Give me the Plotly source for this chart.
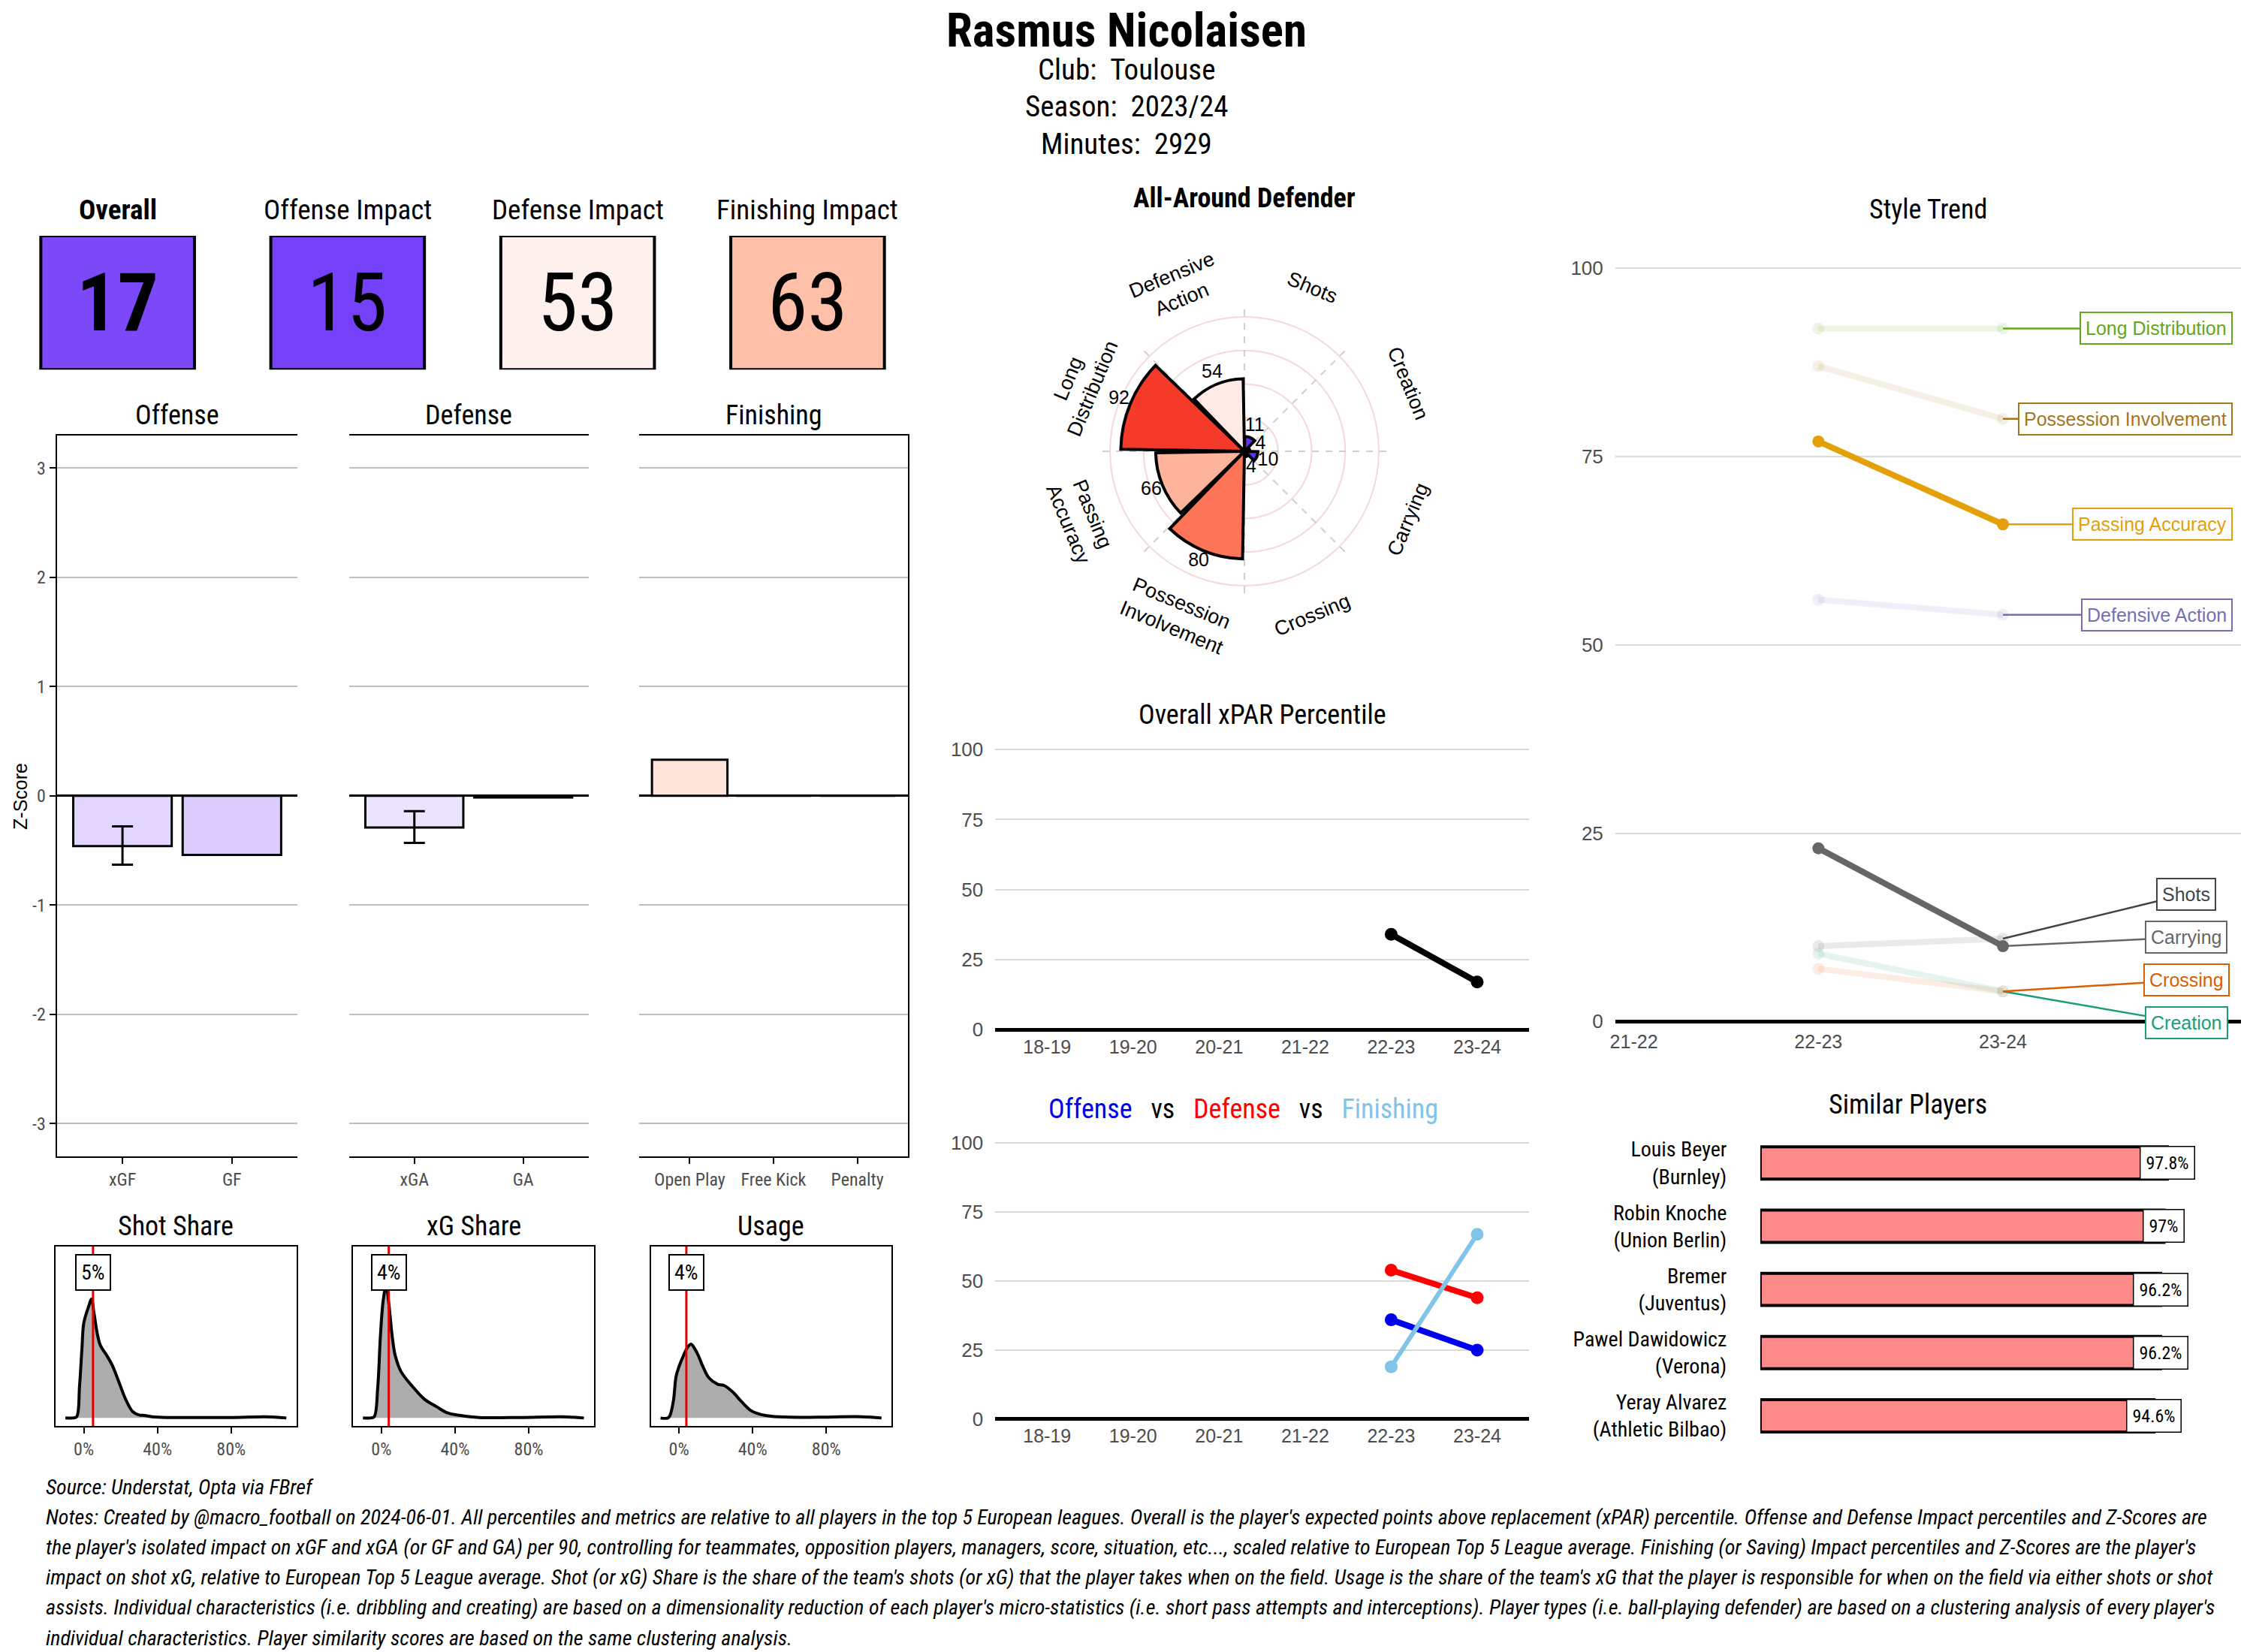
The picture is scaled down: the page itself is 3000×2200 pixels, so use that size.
import math
import plotly.graph_objects as go

# ---------------- data ----------------
PLAYER = "Rasmus Nicolaisen"
CLUB = "Toulouse"
SEASON = "2023/24"
MINUTES = 2929
PLAYER_TYPE = "All-Around Defender"

impact_labels = ["Overall", "Offense Impact", "Defense Impact", "Finishing Impact"]
impact_values = [17, 15, 53, 63]

offense_cats = ["xGF", "GF"]
offense_z = [-0.46, -0.54]
offense_lo = [-0.63, None]
offense_hi = [-0.28, None]

defense_cats = ["xGA", "GA"]
defense_z = [-0.29, -0.015]
defense_lo = [-0.43, None]
defense_hi = [-0.14, None]

finishing_cats = ["Open Play", "Free Kick", "Penalty"]
finishing_z = [0.33, 0.0, 0.0]
finishing_lo = [None, None, None]
finishing_hi = [None, None, None]

share_titles = ["Shot Share", "xG Share", "Usage"]
share_values = [5, 4, 4]

shot_share_x = [-10, -6, -3.9, -2.3, -1, 0, 2.6, 4.2, 5.5, 7.5, 9, 12, 15.5, 19, 22.7, 26.6, 30, 33, 37, 45, 60, 80, 99, 110]
shot_share_d = [0, 0, 5, 130, 280, 380, 445, 475, 420, 330, 290, 255, 210, 145, 75, 25, 12, 10, 5, 2, 2, 2, 5, 0]

xg_share_x = [-10, -6, -3.9, -2, -0.5, 1, 2.6, 4, 5.9, 7.5, 10.7, 17, 23.4, 30, 36, 43, 53, 75, 98, 110]
xg_share_d = [0, 0, 5, 120, 330, 470, 530, 460, 325, 250, 185, 125, 75, 45, 20, 10, 2, 2, 5, 0]

usage_x = [-10, -6, -4.9, -3, -1.6, 0, 1.6, 4.9, 6.5, 9.8, 13, 16.3, 21, 24.4, 29, 34, 39, 44, 50, 60, 75, 99, 110]
usage_d = [0, 0, 10, 70, 165, 205, 235, 285, 295, 260, 205, 160, 135, 130, 105, 65, 30, 15, 7, 3, 3, 5, 0]

radar_cats = ["Creation", "Shots", "Defensive Action", "Long Distribution",
              "Passing Accuracy", "Possession Involvement", "Crossing", "Carrying"]
radar_pct = [4, 11, 54, 92, 66, 80, 4, 10]

xpar_seasons = ["18-19", "19-20", "20-21", "21-22", "22-23", "23-24"]
xpar_pct = [None, None, None, None, 34, 17]
offense_pct = [None, None, None, None, 36, 25]
defense_pct = [None, None, None, None, 54, 44]
finishing_pct = [None, None, None, None, 19, 67]

trend_seasons = ["21-22", "22-23", "23-24"]
trend_names = ["Long Distribution", "Possession Involvement", "Passing Accuracy", "Defensive Action",
               "Shots", "Carrying", "Creation", "Crossing"]
trend_2122 = [None, None, None, None, None, None, None, None]
trend_2223 = [92, 87, 77, 56, 10, 23, 9, 7]
trend_2324 = [92, 80, 66, 54, 11, 10, 4, 4]

sim_names = ["Louis Beyer", "Robin Knoche", "Bremer", "Pawel Dawidowicz", "Yeray Alvarez"]
sim_clubs = ["Burnley", "Union Berlin", "Juventus", "Verona", "Athletic Bilbao"]
sim_scores = [97.8, 97.0, 96.2, 96.2, 94.6]

source_text = "Source: Understat, Opta via FBref"
notes_lines = [
    "Notes: Created by @macro_football on 2024-06-01. All percentiles and metrics are relative to all players in the top 5 European leagues. Overall is the player's expected points above replacement (xPAR) percentile. Offense and Defense Impact percentiles and Z-Scores are",
    "the player's isolated impact on xGF and xGA (or GF and GA) per 90, controlling for teammates, opposition players, managers, score, situation, etc..., scaled relative to European Top 5 League average. Finishing (or Saving) Impact percentiles and Z-Scores are the player's",
    "impact on shot xG, relative to European Top 5 League average. Shot (or xG) Share is the share of the team's shots (or xG) that the player takes when on the field. Usage is the share of the team's xG that the player is responsible for when on the field via either shots or shot",
    "assists. Individual characteristics (i.e. dribbling and creating) are based on a dimensionality reduction of each player's micro-statistics (i.e. short pass attempts and interceptions). Player types (i.e. ball-playing defender) are based on a clustering analysis of every player's",
    "individual characteristics. Player similarity scores are based on the same clustering analysis.",
]

# ---------------- styles ----------------
W, H = 3000, 2200
FC = "Roboto Condensed, Liberation Sans Narrow, DejaVu Sans Condensed, Roboto, sans-serif"
FA = "Liberation Sans, Arial, Helvetica, sans-serif"
GRAY_TXT = "#4D4D4D"
CS = [[0.0, "#3311EE"], [0.16, "#7843F9"], [0.5, "#FFFFFF"], [0.53, "#FEF0EC"], [0.63, "#FEC0A9"],
      [0.66, "#FDB49B"], [0.80, "#FC7559"], [0.92, "#F63A2A"], [1.0, "#E81E1E"]]
trend_colors = {"Long Distribution": "#66A61E", "Possession Involvement": "#A6761D",
                "Passing Accuracy": "#E3A008", "Defensive Action": "#7570B3",
                "Shots": "#444444", "Carrying": "#666666", "Crossing": "#D95F02", "Creation": "#1B9E77"}


def rgba(hexc, a):
    h = hexc.lstrip("#")
    return "rgba(%d,%d,%d,%.3f)" % (int(h[0:2], 16), int(h[2:4], 16), int(h[4:6], 16), a)


fig = go.Figure()
AX = {}
ann = []
shapes = []


def axes(n, xd, yd, xa, ya):
    s = "" if n == 1 else str(n)
    AX["xaxis" + s] = dict(domain=xd, anchor="y" + s, **xa)
    AX["yaxis" + s] = dict(domain=yd, anchor="x" + s, **ya)
    return "x" + s, "y" + s


HID = dict(showgrid=False, zeroline=False, showline=False, showticklabels=False, ticks="")

# ---------------- header ----------------
ann.append(dict(text="<b>%s</b>" % PLAYER, x=0.5, y=0.9818, xref="paper", yref="paper", showarrow=False,
                font=dict(size=63, family=FC, color="black"), yanchor="middle"))
for txt, yy in [("Club:\u00a0\u00a0" + CLUB, 0.9577), ("Season:\u00a0\u00a0" + SEASON, 0.9355),
                ("Minutes:\u00a0\u00a0" + str(MINUTES), 0.9127)]:
    ann.append(dict(text=txt, x=0.5, y=yy, xref="paper", yref="paper", showarrow=False,
                    font=dict(size=39, family=FC, color="black"), yanchor="middle"))

# ---------------- impact boxes ----------------
xr, yr = axes(1, [0.00117, 0.4095], [0.7762, 0.8573], dict(range=[-0.5, 3.5], **HID), dict(range=[0, 1], **HID))
fig.add_trace(go.Bar(x=list(range(len(impact_values))), y=[1] * len(impact_values), width=0.668,
                     marker=dict(color=impact_values, colorscale=CS, cmin=0, cmax=100,
                                 line=dict(color="black", width=4)),
                     cliponaxis=False, xaxis=xr, yaxis=yr, hoverinfo="skip"))
for i, (lab, v) in enumerate(zip(impact_labels, impact_values)):
    bold = i == 0
    ann.append(dict(text=("<b>%d</b>" % v) if bold else str(v), x=i, y=0.5, xref=xr, yref=yr, showarrow=False,
                    font=dict(size=108, family=FC, color="black"), yanchor="middle"))
    ann.append(dict(text=("<b>%s</b>" % lab) if bold else lab, x=i, y=0.873, xref=xr, yref="paper",
                    showarrow=False, font=dict(size=37, family=FC, color="black"), yanchor="middle"))

# ---------------- z-score panels ----------------
panels = [("Offense", offense_cats, offense_z, offense_lo, offense_hi, [0.02523, 0.13207]),
          ("Defense", defense_cats, defense_z, defense_lo, defense_hi, [0.15493, 0.2612]),
          ("Finishing", finishing_cats, finishing_z, finishing_lo, finishing_hi, [0.2838, 0.40287])]
zt = [-3, -2, -1, 0, 1, 2, 3]
for k, (title, cats, zs, los, his, xd) in enumerate(panels):
    first, last = k == 0, k == len(panels) - 1
    xa = dict(type="category", categoryarray=cats, range=[-0.6, len(cats) - 0.4], showgrid=False,
              zeroline=False, showline=True, linecolor="black", linewidth=2, mirror=True,
              ticks="outside", ticklen=8, tickwidth=2, tickcolor="black",
              tickfont=dict(size=24, color=GRAY_TXT, family=FC))
    ya = dict(range=[-3.3, 3.3], tickvals=zt, ticktext=[str(t) for t in zt], showgrid=True,
              gridcolor="#BEBEBE", gridwidth=1.5, zeroline=True, zerolinecolor="black", zerolinewidth=3,
              showline=first or last, linecolor="black", linewidth=2, side="right" if last else "left",
              showticklabels=first, ticks="outside" if first else "", ticklen=8, tickwidth=2,
              tickcolor="black", tickfont=dict(size=24, color=GRAY_TXT, family=FC))
    xr, yr = axes(2 + k, xd, [0.300, 0.7365], xa, ya)
    fig.add_trace(go.Bar(x=cats, y=zs, width=0.9,
                         marker=dict(color=[50 + z * 50 / 3 for z in zs], colorscale=CS, cmin=0, cmax=100,
                                     line=dict(color="black", width=3)),
                         xaxis=xr, yaxis=yr, hoverinfo="skip"))
    ex = [c for c, l in zip(cats, los) if l is not None]
    if ex:
        ev = [z for z, l in zip(zs, los) if l is not None]
        el = [l for l in los if l is not None]
        eh = [h for h in his if h is not None]
        fig.add_trace(go.Scatter(x=ex, y=ev, mode="markers", marker=dict(size=1, color="rgba(0,0,0,0)"),
                                 error_y=dict(type="data", symmetric=False,
                                              array=[h - v for h, v in zip(eh, ev)],
                                              arrayminus=[v - l for v, l in zip(ev, el)],
                                              color="black", thickness=3, width=14),
                                 xaxis=xr, yaxis=yr, hoverinfo="skip"))
    ann.append(dict(text=title, x=0.5, y=0.7486, xref=xr + " domain", yref="paper", showarrow=False,
                    font=dict(size=36, family=FC, color="black"), yanchor="middle"))
ann.append(dict(text="Z-Score", x=0.009, y=0.5182, xref="paper", yref="paper", showarrow=False, textangle=-90,
                xanchor="center", yanchor="middle", font=dict(size=25, family=FA, color="black")))

# ---------------- share densities ----------------
dens = [(shot_share_x, shot_share_d, [0.0247, 0.1315]),
        (xg_share_x, xg_share_d, [0.15677, 0.2636]),
        (usage_x, usage_d, [0.28887, 0.39567])]
for k, (xs, ds, xd) in enumerate(dens):
    xa = dict(range=[-15.3, 115.4], tickvals=[0, 40, 80], ticktext=["0%", "40%", "80%"], showgrid=False,
              zeroline=False, showline=True, mirror=True, linecolor="black", linewidth=2, ticks="outside",
              ticklen=8, tickwidth=2, tickcolor="black", tickfont=dict(size=24, color=GRAY_TXT, family=FC))
    ya = dict(range=[-32, 685], showgrid=False, zeroline=False, showline=True, mirror=True, linecolor="black",
              linewidth=2, showticklabels=False, ticks="")
    xr, yr = axes(5 + k, xd, [0.1368, 0.2455], xa, ya)
    fig.add_trace(go.Scatter(x=xs, y=ds, mode="lines", line=dict(color="black", width=4, shape="spline"),
                             fill="tozeroy", fillcolor="#ADADAD", xaxis=xr, yaxis=yr, hoverinfo="skip"))
    v = share_values[k]
    shapes.append(dict(type="line", xref=xr, yref=yr + " domain", x0=v, x1=v, y0=0, y1=1,
                       line=dict(color="#E00000", width=3)))
    ann.append(dict(text="%d%%" % v, x=v, y=582, xref=xr, yref=yr, showarrow=False, bgcolor="white",
                    bordercolor="black", borderwidth=2, borderpad=6, font=dict(size=28, family=FC, color="black")))
    ann.append(dict(text=share_titles[k], x=0.5, y=0.2579, xref=xr + " domain", yref="paper", showarrow=False,
                    font=dict(size=36, family=FC, color="black"), yanchor="middle"))

# ---------------- radar ----------------
POLAR_DOM_X = [0.4688, 0.6359]
POLAR_DOM_Y = [0.6129, 0.8407]
R_MAX = 140
theta_c = [22.5 + 45 * i for i in range(len(radar_cats))]
for a in range(0, 360, 45):
    fig.add_trace(go.Scatterpolar(r=[0, 106], theta=[a, a], mode="lines",
                                  line=dict(color="#CFCFCF", width=2, dash="dash"),
                                  subplot="polar", hoverinfo="skip"))
fig.add_trace(go.Barpolar(r=radar_pct, theta=theta_c, width=[43] * len(radar_pct),
                          marker=dict(color=radar_pct, colorscale=CS, cmin=0, cmax=100,
                                      line=dict(color="black", width=4)),
                          subplot="polar2", hoverinfo="skip"))
fig.add_trace(go.Scatterpolar(r=[v + 9 for v in radar_pct], theta=theta_c, mode="text",
                              text=[str(v) for v in radar_pct], textfont=dict(size=25, family=FA, color="black"),
                              subplot="polar2", hoverinfo="skip"))
# tangentially rotated category labels around the radar
cx = (POLAR_DOM_X[0] + POLAR_DOM_X[1]) / 2
cy = (POLAR_DOM_Y[0] + POLAR_DOM_Y[1]) / 2
rad_px = min((POLAR_DOM_X[1] - POLAR_DOM_X[0]) * W, (POLAR_DOM_Y[1] - POLAR_DOM_Y[0]) * H) / 2
for name, th in zip(radar_cats, theta_c):
    rr = 132 / R_MAX * rad_px
    t = math.radians(th)
    rot = th - 90
    while rot > 180:
        rot -= 360
    if rot > 90:
        rot -= 180
    elif rot < -90:
        rot += 180
    ann.append(dict(text=name.replace(" ", "<br>"), x=cx + rr * math.cos(t) / W, y=cy + rr * math.sin(t) / H,
                    xref="paper", yref="paper", showarrow=False, textangle=-rot, xanchor="center",
                    yanchor="middle", font=dict(size=27, family=FA, color="black")))
ann.append(dict(text="<b>%s</b>" % PLAYER_TYPE, x=0.5523, y=0.880, xref="paper", yref="paper", showarrow=False,
                font=dict(size=36, family=FC, color="black"), yanchor="middle"))

# ---------------- xPAR percentile ----------------
def season_axes(n, yd):
    xa = dict(type="category", categoryarray=xpar_seasons, range=[-0.6, 5.6], showgrid=False, zeroline=False,
              showline=False, ticks="", tickfont=dict(size=25, color=GRAY_TXT, family=FA))
    ya = dict(range=[-1.5, 103], tickvals=[0, 25, 50, 75, 100], showgrid=True, gridcolor="#D9D9D9",
              gridwidth=2, zeroline=True, zerolinecolor="black", zerolinewidth=5, showline=False,
              ticks="outside", ticklen=10, tickcolor="rgba(0,0,0,0)",
              tickfont=dict(size=26, color=GRAY_TXT, family=FA))
    return axes(n, [0.44183, 0.67857], yd, xa, ya)


xr, yr = season_axes(8, [0.37427, 0.55132])
fig.add_trace(go.Scatter(x=xpar_seasons, y=xpar_pct, mode="lines+markers", line=dict(color="black", width=8),
                         marker=dict(size=17, color="black"), xaxis=xr, yaxis=yr, hoverinfo="skip"))
ann.append(dict(text="Overall xPAR Percentile", x=0.5, y=0.5674, xref=xr + " domain", yref="paper",
                showarrow=False, font=dict(size=36, family=FC, color="black"), yanchor="middle"))

xr, yr = season_axes(9, [0.13841, 0.31305])
for vals, col, wd in [(offense_pct, "#0000EE", 8), (defense_pct, "#FF0000", 8), (finishing_pct, "#80C4E8", 6)]:
    fig.add_trace(go.Scatter(x=xpar_seasons, y=vals, mode="lines+markers", line=dict(color=col, width=wd),
                             marker=dict(size=17, color=col), xaxis=xr, yaxis=yr, hoverinfo="skip"))
ann.append(dict(text="<span style='color:#0000EE'>Offense</span>\u00a0\u00a0\u00a0vs\u00a0\u00a0\u00a0"
                     "<span style='color:#FF0000'>Defense</span>\u00a0\u00a0\u00a0vs\u00a0\u00a0\u00a0"
                     "<span style='color:#80C4E8'>Finishing</span>",
                x=0.5519, y=0.3288, xref="paper", yref="paper", showarrow=False,
                font=dict(size=36, family=FC, color="black"), yanchor="middle"))

# ---------------- style trend ----------------
xa = dict(range=[-0.1, 3.29], tickvals=list(range(len(trend_seasons))), ticktext=trend_seasons, showgrid=False,
          zeroline=False, showline=False, ticks="", tickfont=dict(size=25, color=GRAY_TXT, family=FA))
ya = dict(range=[-1, 105], tickvals=[0, 25, 50, 75, 100], showgrid=True, gridcolor="#D9D9D9", gridwidth=2,
          zeroline=True, zerolinecolor="black", zerolinewidth=5, showline=False, ticks="outside", ticklen=10,
          tickcolor="rgba(0,0,0,0)", tickfont=dict(size=26, color=GRAY_TXT, family=FA))
xr, yr = axes(10, [0.717, 0.99467], [0.37709, 0.86045], xa, ya)
ann.append(dict(text="Style Trend", x=0.5, y=0.873, xref=xr + " domain", yref="paper", showarrow=False,
                font=dict(size=36, family=FC, color="black"), yanchor="middle"))

changes = [abs(b - a) for a, b in zip(trend_2223, trend_2324)]
highlight = sorted(range(len(trend_names)), key=lambda i: -changes[i])[:2]


def repel(vals, gap, lo):
    order = sorted(range(len(vals)), key=lambda i: vals[i])
    pos = [float(vals[i]) for i in order]
    for _ in range(500):
        moved = False
        for k in range(len(pos) - 1):
            d = pos[k + 1] - pos[k]
            if d < gap - 1e-6:
                s = (gap - d) / 2
                pos[k] -= s
                pos[k + 1] += s
                moved = True
        if not moved:
            break
    if pos[0] < lo:
        pos[0] = lo
    for k in range(1, len(pos)):
        if pos[k] < pos[k - 1] + gap:
            pos[k] = pos[k - 1] + gap
    out = [0.0] * len(vals)
    for k, i in enumerate(order):
        out[i] = pos[k]
    return out


label_pos = repel(trend_2324, 5.7, -0.2)
xs_idx = list(range(len(trend_seasons)))
last_i = xs_idx[-1]
order_draw = [i for i in range(len(trend_names)) if i not in highlight] + highlight
for i in order_draw:
    name = trend_names[i]
    col = trend_colors[name]
    ys = [trend_2122[i], trend_2223[i], trend_2324[i]]
    hl = i in highlight
    c = col if hl else rgba(col, 0.11)
    fig.add_trace(go.Scatter(x=xs_idx, y=ys, mode="lines+markers", line=dict(color=c, width=8),
                             marker=dict(size=16, color=c), xaxis=xr, yaxis=yr, hoverinfo="skip"))
for i, name in enumerate(trend_names):
    col = trend_colors[name]
    moved = abs(label_pos[i] - trend_2324[i]) > 0.01
    lx = 2.993 if moved else 3.245
    fig.add_trace(go.Scatter(x=[last_i, lx - (0 if moved else 0.06)], y=[trend_2324[i], label_pos[i]],
                             mode="lines", line=dict(color=col, width=2.5), xaxis=xr, yaxis=yr,
                             hoverinfo="skip"))
    ann.append(dict(text=name, x=lx, y=label_pos[i], xref=xr, yref=yr, showarrow=False,
                    xanchor="center" if moved else "right", yanchor="middle", bgcolor="white",
                    bordercolor=col, borderwidth=2, borderpad=6, font=dict(size=25, family=FA, color=col)))

# ---------------- similar players ----------------
sim_labels = ["%s<br>(%s)" % (n, c) for n, c in zip(sim_names, sim_clubs)]
xa = dict(range=[0, 116.6], **HID)
ya = dict(type="category", categoryarray=sim_labels, range=[len(sim_labels) - 0.4, -0.6], showgrid=False,
          zeroline=False, showline=False, ticks="outside", ticklen=38, tickcolor="rgba(0,0,0,0)",
          tickfont=dict(size=28, family=FC, color="black"))
xr, yr = axes(11, [0.7813, 0.9967], [0.12, 0.319], xa, ya)
fig.add_trace(go.Bar(x=sim_scores, y=sim_labels, orientation="h", width=0.51,
                     marker=dict(color="#FF8A8A", line=dict(color="black", width=4)),
                     xaxis=xr, yaxis=yr, hoverinfo="skip"))
for v, lab in zip(sim_scores, sim_labels):
    ann.append(dict(text="%g%%" % v, x=v, y=lab, xref=xr, yref=yr, showarrow=False, bgcolor="white",
                    bordercolor="black", borderwidth=1.5, borderpad=7, font=dict(size=24, family=FC, color="black")))
ann.append(dict(text="Similar Players", x=0.8827, y=0.3313, xref="paper", yref="paper", showarrow=False,
                font=dict(size=36, family=FC, color="black"), yanchor="middle"))

# ---------------- footer ----------------
ann.append(dict(text="<i>%s</i>" % source_text, x=0.0198, y=0.1, xref="paper", yref="paper", showarrow=False,
                xanchor="left", yanchor="middle", font=dict(size=28, family=FC, color="black")))
for k, line in enumerate(notes_lines):
    ann.append(dict(text="<i>%s</i>" % line, x=0.0198, y=0.0817 - k * 0.01828, xref="paper", yref="paper",
                    showarrow=False, xanchor="left", yanchor="middle",
                    font=dict(size=28, family=FC, color="black")))

fig.update_layout(
    width=W, height=H, margin=dict(l=0, r=0, t=0, b=0), template="none",
    paper_bgcolor="white", plot_bgcolor="white", showlegend=False, barmode="overlay",
    font=dict(family=FC, color="black"),
    polar=dict(domain=dict(x=POLAR_DOM_X, y=POLAR_DOM_Y), bgcolor="rgba(0,0,0,0)",
               radialaxis=dict(range=[0, R_MAX], tickvals=[25, 50, 75, 100], showticklabels=False, ticks="",
                               showline=False, gridcolor="#F4D9D9", gridwidth=2),
               angularaxis=dict(showticklabels=False, ticks="", showline=False, showgrid=False,
                                direction="counterclockwise", rotation=0)),
    polar2=dict(domain=dict(x=POLAR_DOM_X, y=POLAR_DOM_Y), bgcolor="rgba(0,0,0,0)",
                radialaxis=dict(range=[0, R_MAX], showticklabels=False, ticks="", showline=False, showgrid=False),
                angularaxis=dict(showticklabels=False, ticks="", showline=False, showgrid=False,
                                 direction="counterclockwise", rotation=0)),
    annotations=ann, shapes=shapes, **AX)

fig.write_html("out.html", config={"displayModeBar": False},
               post_script="document.body.style.margin='0';document.body.style.overflow='hidden';")
